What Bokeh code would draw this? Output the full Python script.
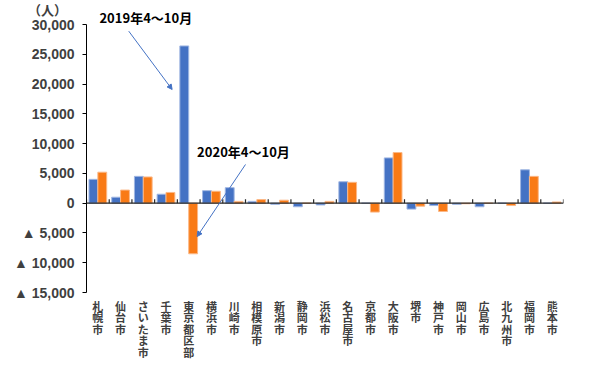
from bokeh.plotting import figure
from bokeh.models import Range1d, FactorRange, ColumnDataSource, Span, Arrow, NormalHead, Label, FixedTicker
from bokeh.core.properties import value
from bokeh.transform import dodge
from bokeh.embed import file_html
from bokeh.resources import INLINE

cities = ["札幌市", "仙台市", "さいたま市", "千葉市", "東京都区部", "横浜市", "川崎市", "相模原市",
          "新潟市", "静岡市", "浜松市", "名古屋市", "京都市", "大阪市", "堺市", "神戸市",
          "岡山市", "広島市", "北九州市", "福岡市", "熊本市"]
y2019 = [4000, 1000, 4500, 1500, 26400, 2100, 2600, 300, -200, -600, -300, 3600, 0, 7600, -1000,
         -400, -200, -600, 0, 5600, 0]
y2020 = [5200, 2200, 4400, 1800, -8500, 2000, 300, 600, 500, 0, 300, 3500, -1500, 8500, -500,
         -1400, -100, 0, -400, 4500, 200]
y_ticks = [-15000, -10000, -5000, 0, 5000, 10000, 15000, 20000, 25000, 30000]
y_tick_labels = ["▲ 15,000", "▲ 10,000", "▲ 5,000", "0", "5,000", "10,000", "15,000",
                 "20,000", "25,000", "30,000"]

src = ColumnDataSource(dict(city=cities, y2019=y2019, y2020=y2020,
                            vlabel=["\n".join(list(c)) for c in cities]))

TOP = 9
p = figure(x_range=FactorRange(*cities, range_padding=0), y_range=Range1d(-29000, 31000),
           frame_width=477, frame_height=378 - TOP, output_backend="svg", toolbar_location=None,
           x_axis_location=None,
           min_border_left=86, min_border_top=TOP, min_border_right=22, min_border_bottom=0)
# y range: 30000 at page y=24, -15000 at page y=292
s = 45000 / 268.0
p.y_range.start = -15000 - (378 - 292) * s
p.y_range.end = 30000 + (24 - TOP) * s
p.outline_line_color = None
p.grid.grid_line_color = None
p.background_fill_color = "white"

p.vbar(x=dodge("city", -0.195, range=p.x_range), top="y2019", width=0.39, source=src,
       fill_color="#4472C4", line_color="#9FB6E2", line_width=1)
p.vbar(x=dodge("city", 0.195, range=p.x_range), top="y2020", width=0.39, source=src,
       fill_color="#F97A15", line_color="#FBB887", line_width=1)

# zero line and category boundary ticks
p.add_layout(Span(location=0, dimension="width", line_color="#262626", line_width=1.3))
nb = len(cities) + 1
p.segment(x0=list(range(nb)), x1=list(range(nb)), y0=[0] * nb, y1=[650] * nb,
          line_color="#262626", line_width=1.2)

# category labels (vertical, upright characters) below the value axis
p.text(x="city", y=-15000 - 5 * s, text="vlabel", source=src,
       text_font=value("Noto Sans CJK JP"), text_font_style="bold", text_font_size="11px",
       text_line_height=0.72, text_color="#404040", text_align="center", text_baseline="top")

# y axis
ya = p.yaxis[0]
ya.bounds = (-15000, 30000)
ya.ticker = FixedTicker(ticks=y_ticks)
ya.major_label_overrides = {t: l for t, l in zip(y_ticks, y_tick_labels)}
ya.axis_line_color = "black"
ya.axis_line_width = 1
ya.major_tick_line_color = "black"
ya.major_tick_in = 0
ya.major_tick_out = 4
ya.minor_tick_line_color = None
ya.major_label_text_font = "Liberation Sans"
ya.major_label_text_font_style = "bold"
ya.major_label_text_font_size = "14px"
ya.major_label_text_color = "#404040"
ya.major_label_standoff = 8
ya.axis_label = "（人）"
ya.axis_label_orientation = "horizontal"
ya.axis_label_align = "end"
ya.axis_label_standoff = -56
ya.axis_label_text_font = "Noto Sans CJK JP"
ya.axis_label_text_font_style = "bold"
ya.axis_label_text_font_size = "13px"
ya.axis_label_text_color = "#404040"

# annotations
p.add_layout(Label(x=0.57, y=(202.7 - 16.7) * s, text="2019年4～10月", text_font="Noto Sans CJK JP",
                   text_font_style="bold", text_font_size="13px", text_color="black",
                   text_baseline="middle"))
p.add_layout(Label(x=4.87, y=8700, text="2020年4～10月", text_font="Noto Sans CJK JP",
                   text_font_style="bold", text_font_size="13px", text_color="black",
                   text_baseline="middle"))
p.add_layout(Arrow(x_start=1.86, y_start=28880, x_end=3.77, y_end=19090,
                   line_color="#4472C4", line_width=1,
                   end=NormalHead(size=5, fill_color="#4472C4", line_color="#4472C4")))
p.add_layout(Arrow(x_start=7.0, y_start=6500, x_end=4.87, y_end=-5600,
                   line_color="#4472C4", line_width=1,
                   end=NormalHead(size=5, fill_color="#4472C4", line_color="#4472C4")))

open("out.html", "w").write(file_html(p, INLINE))
